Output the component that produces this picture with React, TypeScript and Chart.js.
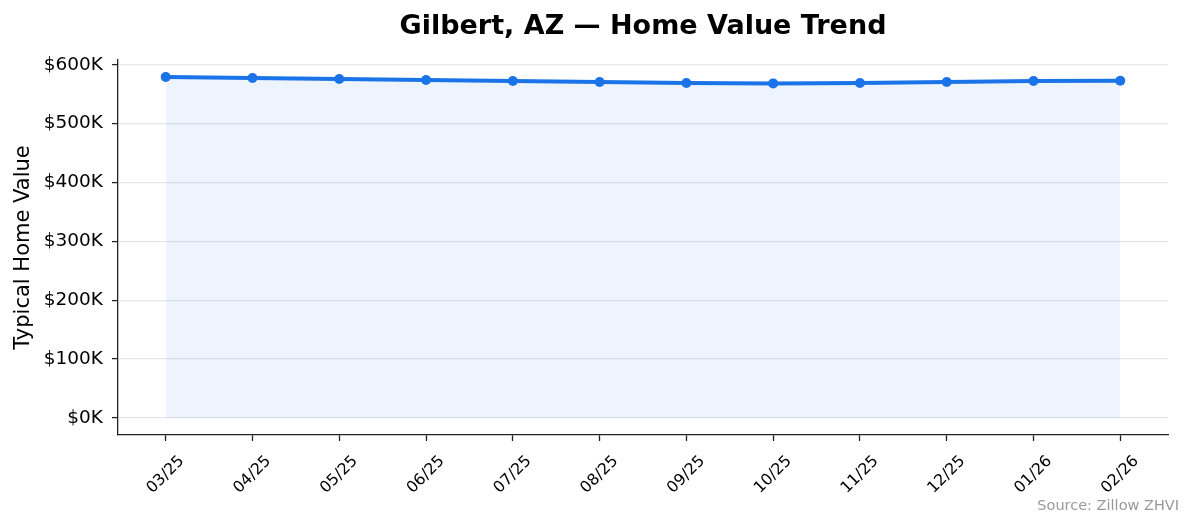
import React, { useRef, useEffect } from 'react';
import { Chart, registerables } from 'chart.js';

Chart.register(...registerables);

// data
const MONTHS = ['03/25', '04/25', '05/25', '06/25', '07/25', '08/25', '09/25', '10/25', '11/25', '12/25', '01/26', '02/26'];
const HOME_VALUES = [579100, 577400, 575700, 574000, 572300, 570600, 568900, 568300, 568900, 570600, 572300, 572800];
const Y_TICKS = [0, 100000, 200000, 300000, 400000, 500000, 600000];

const TITLE = 'Gilbert, AZ — Home Value Trend';
const Y_LABEL = 'Typical Home Value';
const SOURCE = 'Source: Zillow ZHVI';

const FONT = "'DejaVu Sans', sans-serif";
const BLUE = '#1a73e8';

const textPlugin = {
  id: 'extraText',
  afterDraw(chart: any) {
    const ctx = chart.ctx;
    const area = chart.chartArea;
    ctx.save();
    ctx.fillStyle = '#000';
    ctx.textAlign = 'center';
    ctx.textBaseline = 'middle';
    ctx.font = `bold 27px ${FONT}`;
    ctx.fillText(TITLE, (area.left + area.right) / 2, 27);

    ctx.font = `21px ${FONT}`;
    ctx.translate(24, (area.top + area.bottom) / 2);
    ctx.rotate(-Math.PI / 2);
    ctx.fillText(Y_LABEL, 0, 0);
    ctx.restore();

    ctx.save();
    ctx.fillStyle = '#999';
    ctx.font = `14.5px ${FONT}`;
    ctx.textAlign = 'right';
    ctx.textBaseline = 'middle';
    ctx.fillText(SOURCE, 1179, 506);
    ctx.restore();
  },
};

const App = () => {
  const canvasRef = useRef<HTMLCanvasElement>(null);

  useEffect(() => {
    if (!canvasRef.current) return;
    const chart = new Chart(canvasRef.current, {
      type: 'line',
      data: {
        datasets: [
          {
            label: 'ZHVI',
            data: HOME_VALUES.map((v, i) => ({ x: i, y: v })),
            borderColor: BLUE,
            backgroundColor: 'rgba(26,115,232,0.08)',
            borderWidth: 4,
            pointRadius: 5,
            pointBackgroundColor: BLUE,
            pointBorderWidth: 0,
            tension: 0,
            fill: { value: 0 },
          },
        ],
      },
      options: {
        animation: false,
        responsive: true,
        maintainAspectRatio: false,
        layout: { padding: { top: 60, right: 26, left: 0, bottom: 0 } },
        plugins: {
          legend: { display: false },
          title: { display: false },
          tooltip: { enabled: false },
        },
        scales: {
          x: {
            type: 'linear',
            min: -0.55,
            max: 11.55,
            afterFit: (scale: any) => {
              scale.height = 94;
            },
            afterBuildTicks: (scale: any) => {
              scale.ticks = MONTHS.map((_, i) => ({ value: i }));
            },
            grid: {
              drawOnChartArea: false,
              drawTicks: true,
              tickLength: 6,
              tickColor: '#222',
              tickWidth: 1.3,
            },
            border: { display: true, color: '#222', width: 1.3 },
            ticks: {
              autoSkip: false,
              maxRotation: 45,
              minRotation: 45,
              padding: 11,
              labelOffset: 16,
              color: '#000',
              font: { family: FONT, size: 15.8 },
              callback: (v: any) => MONTHS[v] ?? '',
            },
          },
          y: {
            type: 'linear',
            min: -28960,
            max: 608060,
            afterFit: (scale: any) => {
              scale.width = 118;
            },
            afterBuildTicks: (scale: any) => {
              scale.ticks = Y_TICKS.map((v) => ({ value: v }));
            },
            grid: {
              color: '#e6e6e6',
              lineWidth: 1.2,
              drawTicks: true,
              tickLength: 6,
              tickColor: '#222',
              tickWidth: 1.3,
            },
            border: { display: true, color: '#222', width: 1.3 },
            ticks: {
              padding: 9,
              color: '#000',
              font: { family: FONT, size: 18.5 },
              callback: (v: any) => `$${Math.round(v / 1000)}K`,
            },
          },
        },
      },
      plugins: [textPlugin],
    });
    return () => {
      chart.destroy();
    };
  }, []);

  return (
    <div style={{ position: 'absolute', left: 0, top: 0, width: 1194, height: 529, background: '#fff' }}>
      <canvas ref={canvasRef} />
    </div>
  );
};

export default App;
